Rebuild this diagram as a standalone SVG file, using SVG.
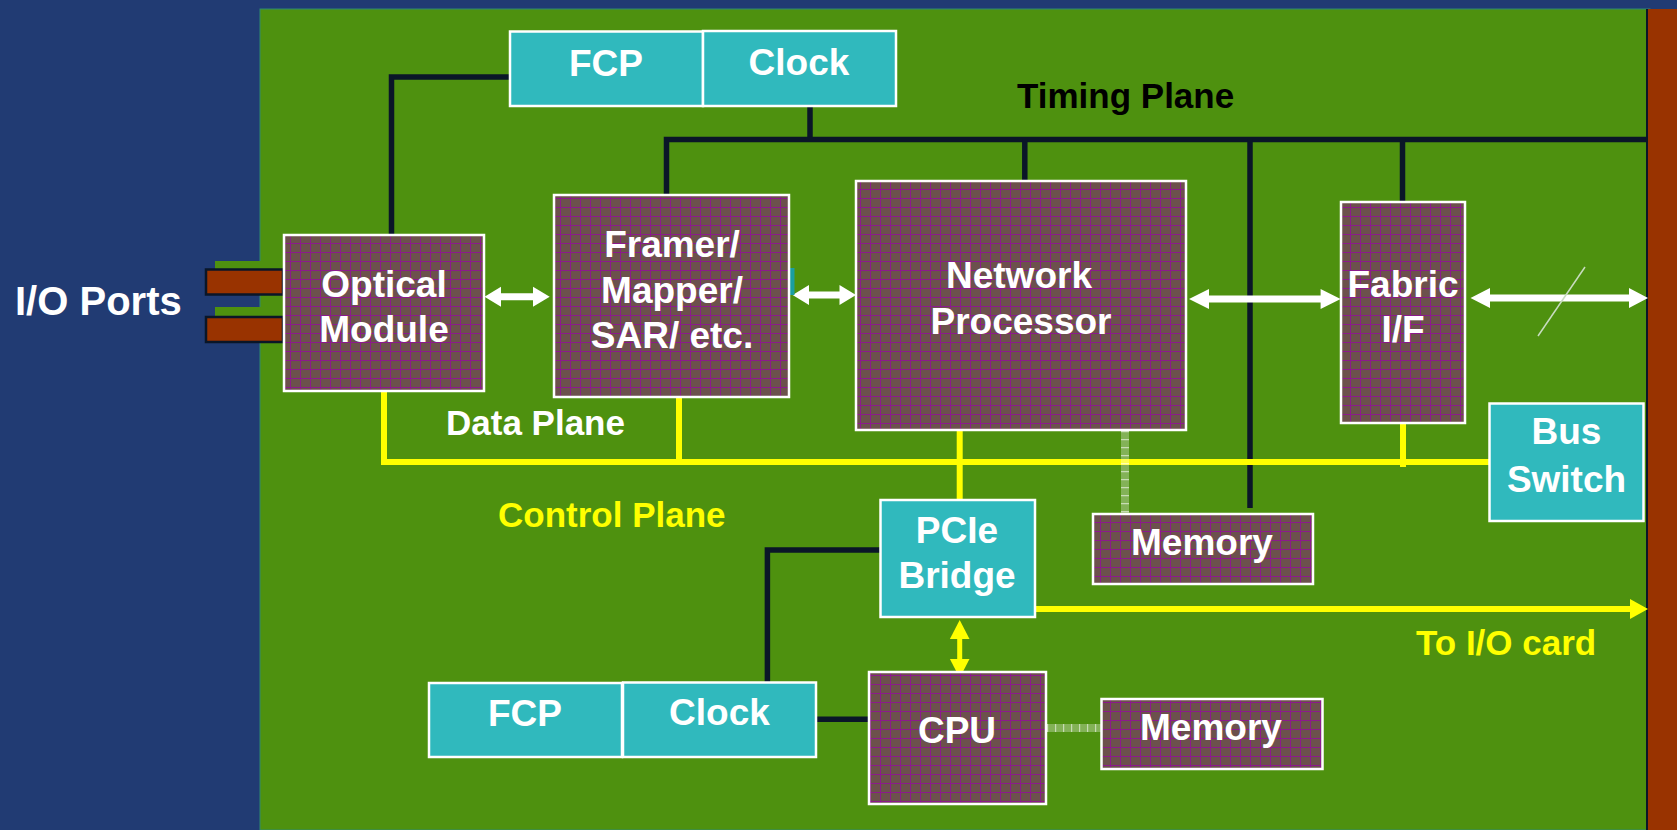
<svg xmlns="http://www.w3.org/2000/svg" width="1677" height="830" viewBox="0 0 1677 830">
  <defs>
    <pattern id="grid" patternUnits="userSpaceOnUse" width="10" height="9">
      <rect width="10" height="9" fill="#6c514c"/>
      <path d="M0,0.5 H10 M0.5,0 V9" stroke="#8c1a8c" stroke-width="1" fill="none"/>
    </pattern>
    <style>
      .chip { fill: url(#grid); stroke: #ffffff; stroke-width: 2.5; }
      .teal { fill: #30b9bd; stroke: #ffffff; stroke-width: 2.5; }
      .nt { font-family: "Liberation Sans", Arial, sans-serif; font-weight: bold; font-size: 37px; fill: #ffffff; text-anchor: middle; }
      .lbl { font-family: "Liberation Sans", Arial, sans-serif; font-weight: bold; font-size: 35px; }
      .tim { fill: none; stroke: #0a1628; stroke-width: 5.5; stroke-linejoin: miter; }
      .ctl { fill: none; stroke: #ffff00; stroke-width: 6; }
      .dat { fill: #ffffff; }
      .port { fill: #993300; stroke: #0a1628; stroke-width: 2.5; }
      .mem { fill: #ffffff; fill-opacity: 0.3; }
      .tick { stroke: #ffffff; stroke-opacity: 0.55; stroke-dasharray: 1.2 6.8; fill: none; }
    </style>
  </defs>

  <!-- background -->
  <rect x="0" y="0" width="1677" height="830" fill="#213b73"/>
  <rect x="260" y="9" width="1390" height="821" fill="#4e910f" stroke="#2e8a70" stroke-width="1"/>
  <rect x="1648" y="9" width="29" height="821" fill="#993300"/>
  <line x1="1647" y1="9" x2="1647" y2="830" stroke="#0a1628" stroke-width="2"/>

  <!-- I/O ports -->
  <g id="io-ports">
    <rect x="215" y="261" width="46" height="34" fill="#4e910f"/>
    <rect x="215" y="307" width="46" height="35" fill="#4e910f"/>
    <rect class="port" x="206" y="269.5" width="77" height="25"/>
    <rect class="port" x="206" y="317" width="77" height="25"/>
    <text x="15" y="315" font-family="Liberation Sans, Arial, sans-serif" font-weight="bold" font-size="40" fill="#ffffff">I/O Ports</text>
  </g>

  <!-- connectors -->
  <g id="connectors">
    <!-- timing plane -->
    <path class="tim" d="M510,77 H391.5 V235"/>
    <path class="tim" d="M810,106 V139"/>
    <path class="tim" d="M666.5,195 V139.5 H1647"/>
    <path class="tim" d="M1024.8,139 V181"/>
    <path class="tim" d="M1250,139 V508"/>
    <path class="tim" d="M1402.5,139 V202"/>
    <path class="tim" d="M880.5,550 H767.4 V682"/>
    <path class="tim" d="M816,719.3 H869"/>

    <!-- control plane -->
    <path class="ctl" d="M384,391 V462 H1489"/>
    <path class="ctl" d="M679,397 V462"/>
    <path class="ctl" d="M959.7,430 V500"/>
    <path class="ctl" d="M1403,422 V467"/>
    <path class="ctl" d="M1035,609 H1632"/>
    <polygon fill="#ffff00" points="1630,599 1648,609 1630,619"/>
    <line x1="959.7" y1="636" x2="959.7" y2="662" stroke="#ffff00" stroke-width="5"/>
    <polygon fill="#ffff00" points="959.7,620 969.5,639 949.9,639"/>
    <polygon fill="#ffff00" points="959.7,678 969.5,659 949.9,659"/>

    <!-- data plane arrows -->
    <polygon class="dat" points="484.5,296.7 501,286.7 501,293.2 533,293.2 533,286.7 549.7,296.7 533,306.7 533,300.2 501,300.2 501,306.7"/>
    <polygon class="dat" points="792.6,295 809,285 809,291.5 839.5,291.5 839.5,285 856,295 839.5,305 839.5,298.5 809,298.5 809,305"/>
    <polygon class="dat" points="1189,299 1209,289 1209,295.5 1320.6,295.5 1320.6,289 1340.6,299 1320.6,309 1320.6,302.5 1209,302.5 1209,309"/>
    <polygon class="dat" points="1470.5,298 1490,288 1490,294.5 1629,294.5 1629,288 1648,298 1629,308 1629,301.5 1490,301.5 1490,308"/>
    <line x1="1585" y1="267" x2="1538" y2="336" stroke="#c8dcc0" stroke-width="1.5"/>
    <rect x="788.5" y="268" width="6" height="27" fill="#1a9ea2"/>

    <!-- memory links -->
    <rect class="mem" x="1121" y="430" width="8" height="84"/>
    <line class="tick" x1="1125" y1="431" x2="1125" y2="514" stroke-width="8"/>
    <rect class="mem" x="1046" y="724" width="55" height="8"/>
    <line class="tick" x1="1047" y1="728" x2="1101" y2="728" stroke-width="8"/>
  </g>

  <!-- nodes -->
  <g id="fcp-top">
    <rect class="teal" x="510" y="31.5" width="193" height="74.5"/>
    <text class="nt" x="606" y="76">FCP</text>
  </g>
  <g id="clock-top">
    <rect class="teal" x="703" y="31" width="193" height="75"/>
    <text class="nt" x="799" y="75">Clock</text>
  </g>
  <g id="optical-module">
    <rect class="chip" x="284" y="235" width="200" height="156"/>
    <text class="nt" x="384" y="297">Optical</text>
    <text class="nt" x="384" y="342">Module</text>
  </g>
  <g id="framer">
    <rect class="chip" x="554" y="195" width="235" height="202"/>
    <text class="nt" x="672" y="257">Framer/</text>
    <text class="nt" x="672" y="303">Mapper/</text>
    <text class="nt" x="672" y="348">SAR/ etc.</text>
  </g>
  <g id="network-processor">
    <rect class="chip" x="856" y="181" width="330" height="249"/>
    <text class="nt" x="1019" y="288">Network</text>
    <text class="nt" x="1021" y="334">Processor</text>
  </g>
  <g id="fabric-if">
    <rect class="chip" x="1341" y="202" width="124" height="221"/>
    <text class="nt" x="1403" y="297">Fabric</text>
    <text class="nt" x="1403" y="342">I/F</text>
  </g>
  <g id="bus-switch">
    <rect class="teal" x="1489.5" y="403.5" width="154" height="117.5"/>
    <text class="nt" x="1566.5" y="444">Bus</text>
    <text class="nt" x="1566.5" y="492">Switch</text>
  </g>
  <g id="pcie-bridge">
    <rect class="teal" x="880.5" y="500" width="154.5" height="117"/>
    <text class="nt" x="957" y="543">PCIe</text>
    <text class="nt" x="957" y="588">Bridge</text>
  </g>
  <g id="memory-top">
    <rect class="chip" x="1093" y="514" width="220" height="70"/>
    <text class="nt" x="1202" y="555">Memory</text>
  </g>
  <g id="fcp-bottom">
    <rect class="teal" x="429" y="683" width="193" height="74"/>
    <text class="nt" x="525" y="726">FCP</text>
  </g>
  <g id="clock-bottom">
    <rect class="teal" x="623" y="682.5" width="193" height="74.5"/>
    <text class="nt" x="719.5" y="725">Clock</text>
  </g>
  <g id="cpu">
    <rect class="chip" x="869" y="672" width="177" height="132"/>
    <text class="nt" x="957" y="743">CPU</text>
  </g>
  <g id="memory-bottom">
    <rect class="chip" x="1101.5" y="699" width="221" height="70"/>
    <text class="nt" x="1211" y="740">Memory</text>
  </g>

  <!-- plane labels -->
  <g id="labels">
    <text class="lbl" x="1017" y="108" fill="#000000">Timing Plane</text>
    <text class="lbl" x="446" y="435" fill="#ffffff">Data Plane</text>
    <text class="lbl" x="498" y="527" fill="#ffff00">Control Plane</text>
    <text class="lbl" x="1416" y="655" fill="#ffff00">To I/O card</text>
  </g>
</svg>
